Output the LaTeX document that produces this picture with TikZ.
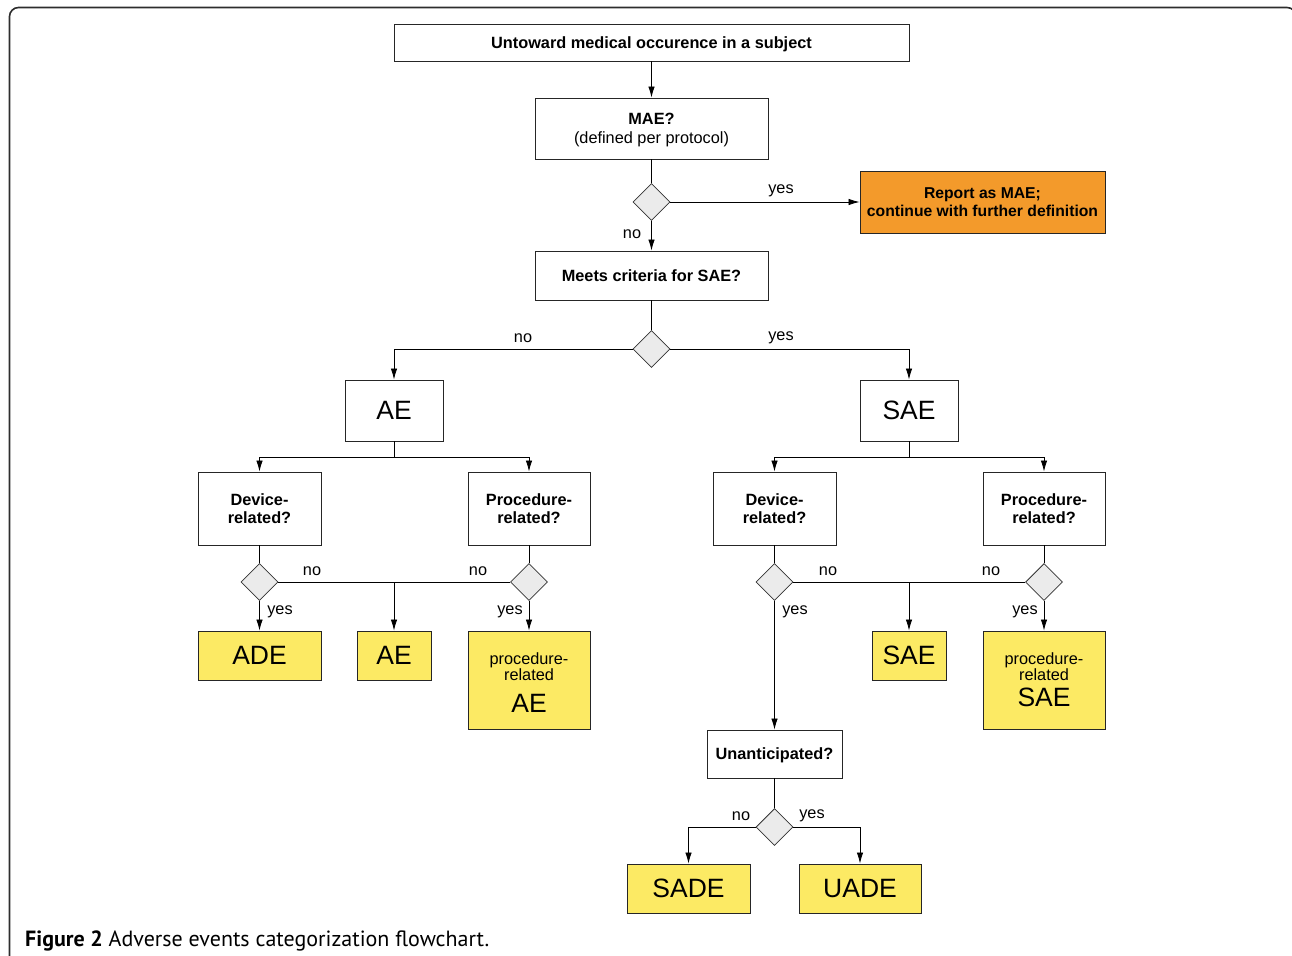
\documentclass[tikz,border=0pt]{standalone}
\usepackage{fontspec}
\setmainfont{Liberation Sans}
\newfontfamily\capfont{PT Sans}
\usetikzlibrary{shapes.geometric,arrows.meta}
\definecolor{orangebox}{RGB}{243,154,43}
\definecolor{yellowbox}{RGB}{252,234,100}
\definecolor{diafill}{RGB}{235,235,235}
\definecolor{framec}{RGB}{45,45,45}
\tikzset{
  box/.style={draw=black!85, line width=0.9pt, fill=white, rectangle, inner sep=0pt, align=center, text depth=0pt, font=\fontsize{16.3}{18.5}\selectfont},
  bbox/.style={box, font=\fontsize{16.3}{18.5}\selectfont\bfseries},
  bigbox/.style={box, font=\fontsize{26.5}{28}\selectfont},
  ybox/.style={box, fill=yellowbox},
  ybig/.style={ybox, font=\fontsize{26.5}{28}\selectfont},
  obox/.style={box, fill=orangebox, font=\fontsize{15.7}{18.5}\selectfont\bfseries},
  intext/.style={inner sep=0pt, align=center, text depth=0pt},
  dec/.style={diamond, draw=black!80, line width=0.8pt, fill=diafill, minimum width=37pt, minimum height=37pt, inner sep=0pt, aspect=1},
  arr/.style={-{Latex[length=11pt,width=6.5pt]}, line width=0.8pt},
  ln/.style={line width=0.8pt},
  lab/.style={font=\fontsize{16.3}{18}\selectfont, inner sep=0pt}
}
\begin{document}
\begin{tikzpicture}[x=1pt,y=-1pt]
\useasboundingbox (0,0) rectangle (1292,955);
\begin{scope}
\clip (0,0) rectangle (1292,955);
\draw[framec, line width=1.6pt, rounded corners=9pt] (9.5,7.5) rectangle (1296,1000);
\end{scope}

% top part
\node[bbox, minimum width=515pt, minimum height=37pt] (top) at (651.5,42.5) {Untoward medical occurence in a subject};
\node[box, minimum width=233pt, minimum height=61pt] (mae) at (651.5,128.5) {\textbf{MAE?}\\(defined per protocol)};
\node[dec] (d1) at (651.5,202) {};
\node[obox, minimum width=245pt, minimum height=62pt] (rep) at (982.5,202) {Report as MAE;\\continue with further definition};
\node[bbox, minimum width=233pt, minimum height=49pt] (saeq) at (651.5,275.5) {Meets criteria for SAE?};
\node[dec] (d2) at (651.5,349) {};

\node[bigbox, minimum width=98pt, minimum height=61pt] (ae) at (394,410.5) {AE};
\node[bigbox, minimum width=98pt, minimum height=61pt] (sae) at (909,410.5) {SAE};

% left branch
\node[bbox, minimum width=123pt, minimum height=73pt] (devL) at (259.5,508.5) {Device-\\related?};
\node[bbox, minimum width=122pt, minimum height=73pt] (procL) at (529,508.5) {Procedure-\\related?};
\node[dec] (dL1) at (259.5,582) {};
\node[dec] (dL2) at (529,582) {};
\node[ybig, minimum width=123pt, minimum height=49pt] (ade) at (259.5,655.5) {ADE};
\node[ybig, minimum width=74pt, minimum height=49pt] (aeY) at (394,655.5) {AE};
\node[ybox, minimum width=122pt, minimum height=98pt] (pae) at (529,680) {};
\node[intext, font=\fontsize{16.3}{16}\selectfont] (paet) at (529,666.5) {procedure-\\related};
\node[intext, font=\fontsize{26.5}{28}\selectfont] (paeb) at (529,703.5) {AE};

% right branch
\node[bbox, minimum width=123pt, minimum height=73pt] (devR) at (774.5,508.5) {Device-\\related?};
\node[bbox, minimum width=122pt, minimum height=73pt] (procR) at (1044,508.5) {Procedure-\\related?};
\node[dec] (dR1) at (774.5,582) {};
\node[dec] (dR2) at (1044,582) {};
\node[ybig, minimum width=74pt, minimum height=49pt] (saeY) at (909,655.5) {SAE};
\node[ybox, minimum width=122pt, minimum height=98pt] (psae) at (1044,680) {};
\node[intext, font=\fontsize{16.3}{16}\selectfont] (psaet) at (1044,666.5) {procedure-\\related};
\node[intext, font=\fontsize{26.5}{28}\selectfont] (psaeb) at (1044,697.5) {SAE};

\node[bbox, minimum width=135pt, minimum height=48pt] (unant) at (774.5,754) {Unanticipated?};
\node[dec] (dU) at (774.5,827) {};
\node[ybig, minimum width=123pt, minimum height=49pt] (sade) at (688.5,888.5) {SADE};
\node[ybig, minimum width=122pt, minimum height=49pt] (uade) at (860,888.5) {UADE};

% coordinates
\coordinate (aeb) at (394,457);
\coordinate (saeb) at (909,457);
\coordinate (mL) at (394,582);
\coordinate (mR) at (909,582);

% connectors
\draw[arr] (top) -- (mae);
\draw[ln] (mae) -- (d1);
\draw[arr] (d1) -- (rep);
\draw[arr] (d1) -- (saeq);
\draw[ln] (saeq) -- (d2);
\draw[arr] (d2) -| (ae);
\draw[arr] (d2) -| (sae);

\draw[ln] (ae) -- (aeb);
\draw[arr] (aeb) -| (devL);
\draw[arr] (aeb) -| (procL);
\draw[ln] (devL) -- (dL1);
\draw[ln] (procL) -- (dL2);
\draw[arr] (dL1) -- (ade);
\draw[arr] (dL2) -- (pae);
\draw[ln] (dL1) -- (dL2);
\draw[arr] (mL) -- (aeY);

\draw[ln] (sae) -- (saeb);
\draw[arr] (saeb) -| (devR);
\draw[arr] (saeb) -| (procR);
\draw[ln] (devR) -- (dR1);
\draw[ln] (procR) -- (dR2);
\draw[arr] (dR1) -- (unant);
\draw[arr] (dR2) -- (psae);
\draw[ln] (dR1) -- (dR2);
\draw[arr] (mR) -- (saeY);

\draw[ln] (unant) -- (dU);
\draw[arr] (dU) -| (sade);
\draw[arr] (dU) -| (uade);

% labels
\node[lab] (l1) at (781,191) {yes};
\node[lab] (l2) at (632,234) {no};
\node[lab] (l3) at (523,338) {no};
\node[lab] (l4) at (781,338) {yes};
\node[lab] (l5) at (312,571) {no};
\node[lab] (l6) at (478,571) {no};
\node[lab] (l7) at (280,612) {yes};
\node[lab] (l8) at (510,612) {yes};
\node[lab] (l9) at (828,571) {no};
\node[lab] (l10) at (991,571) {no};
\node[lab] (l11) at (795,612) {yes};
\node[lab] (l12) at (1025,612) {yes};
\node[lab] (l13) at (741,816) {no};
\node[lab] (l14) at (812,816) {yes};

% caption
\node[anchor=base west, inner sep=0pt, font=\capfont\fontsize{22}{24}\selectfont] (cap) at (25,946) {\textbf{Figure 2} Adverse events categorization flowchart.};
\end{tikzpicture}
\end{document}
